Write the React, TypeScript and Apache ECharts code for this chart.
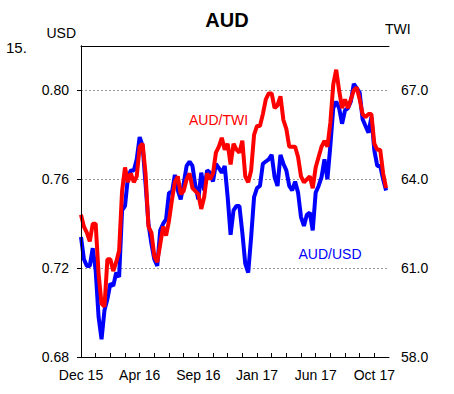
import React, { useEffect, useRef } from "react";
import * as echarts from "echarts";

const xLabels = ["Dec 15", "Apr 16", "Sep 16", "Jan 17", "Jun 17", "Oct 17"];
const labelStep = 20;

const audUsd = [
  0.734, 0.724, 0.721, 0.721, 0.729, 0.719, 0.698, 0.688, 0.701, 0.706,
  0.713, 0.712, 0.718, 0.716, 0.746, 0.748, 0.761, 0.764, 0.764, 0.769,
  0.779, 0.775, 0.758, 0.740, 0.731, 0.724, 0.721, 0.737, 0.740, 0.742,
  0.754, 0.754, 0.762, 0.755, 0.751, 0.758, 0.766, 0.768, 0.766, 0.757,
  0.751, 0.763, 0.755, 0.764, 0.763, 0.759, 0.767, 0.765, 0.763, 0.766,
  0.752, 0.735, 0.746, 0.748, 0.748, 0.736, 0.722, 0.718, 0.734, 0.752,
  0.756, 0.757, 0.767, 0.768, 0.769, 0.771, 0.761, 0.757, 0.771, 0.767,
  0.764, 0.757, 0.755, 0.759, 0.754, 0.743, 0.739, 0.744, 0.745, 0.737,
  0.754, 0.757, 0.761, 0.769, 0.760, 0.775, 0.792, 0.795, 0.792, 0.785,
  0.791, 0.792, 0.795, 0.803, 0.801, 0.799, 0.787, 0.784, 0.781, 0.788,
  0.773, 0.766, 0.766, 0.760, 0.755,
];

const audTwi = [
  62.8, 62.4, 62.2, 61.9, 62.5, 62.5, 60.8, 59.8, 59.7, 61.3,
  61.3, 60.9, 61.2, 61.6, 63.6, 64.4, 63.9, 64.2, 63.9, 64.1,
  65.1, 65.2, 64.2, 62.4, 62.2, 61.4, 61.2, 61.8, 62.4, 62.1,
  62.6, 63.3, 63.9, 64.1, 63.5, 63.6, 64.0, 64.2, 63.7, 63.6,
  63.5, 63.0, 63.4, 64.2, 64.0, 64.2, 64.9, 65.1, 65.4, 65.0,
  65.2, 64.5, 65.2, 65.0, 64.9, 65.3, 64.1, 63.9, 64.3, 65.5,
  65.8, 65.8, 66.2, 66.7, 66.9, 66.9, 66.4, 66.5, 66.8, 66.0,
  65.7, 65.1, 65.1, 65.1, 64.75, 64.1, 63.9, 64.0, 64.1, 63.7,
  64.4, 64.75, 65.1, 65.3, 65.1, 65.9, 67.2, 67.7, 67.0, 66.4,
  66.7, 66.4, 66.7, 67.0, 67.1, 66.7, 66.2, 66.1, 66.2, 66.2,
  65.2, 65.0, 65.0, 64.2, 63.7,
];

const FONT = "'Liberation Sans', Arial, sans-serif";

export default function App() {
  const ref = useRef<HTMLDivElement>(null);

  useEffect(() => {
    if (!ref.current) return;
    const chart = echarts.init(ref.current, null, { renderer: "svg" });
    const xMax = 105;
    chart.setOption({
      animation: false,
      backgroundColor: "#fff",
      grid: { left: 81, right: 65, top: 46, bottom: 37, containLabel: false },
      xAxis: [
        {
          type: "value",
          min: 0,
          max: xMax,
          interval: 5,
          position: "bottom",
          z: 5,
          axisLine: { show: true, lineStyle: { color: "#000", width: 1 } },
          axisTick: { show: true, inside: true, length: 4, lineStyle: { color: "#000" } },
          axisLabel: {
            margin: 11,
            color: "#000",
            fontSize: 14,
            fontFamily: FONT,
            showMaxLabel: false,
            formatter: (v: number) => {
              const k = Math.round(v);
              if (k % labelStep !== 0) return "";
              const idx = k / labelStep;
              return xLabels[idx] ?? "";
            },
          },
          splitLine: { show: false },
        },
        {
          type: "value",
          min: 0,
          max: xMax,
          position: "top",
          z: 5,
          axisLine: { show: true, lineStyle: { color: "#000", width: 1 } },
          axisTick: { show: false },
          axisLabel: { show: false },
          splitLine: { show: false },
        },
      ],
      yAxis: [
        {
          type: "value",
          min: 0.68,
          max: 0.82,
          interval: 0.04,
          position: "left",
          axisLine: { show: true, lineStyle: { color: "#000", width: 1 } },
          axisTick: { show: true, inside: false, length: 4, lineStyle: { color: "#000" } },
          axisLabel: {
            margin: 12,
            color: "#000",
            fontSize: 14,
            fontFamily: FONT,
            showMaxLabel: false,
            formatter: (v: number) => v.toFixed(2),
          },
          splitLine: { show: true, lineStyle: { color: "#999", width: 1, type: [2, 2] } },
        },
        {
          type: "value",
          min: 58,
          max: 68.5,
          interval: 3,
          position: "right",
          z: 5,
          axisLine: { show: true, lineStyle: { color: "#000", width: 1 } },
          axisTick: { show: true, inside: true, length: 4, lineStyle: { color: "#000" } },
          axisLabel: {
            margin: 12,
            color: "#000",
            fontSize: 14,
            fontFamily: FONT,
            showMaxLabel: false,
            formatter: (v: number) => v.toFixed(1),
          },
          splitLine: { show: false },
        },
      ],
      series: [
        {
          name: "AUD/USD",
          type: "line",
          xAxisIndex: 0,
          yAxisIndex: 0,
          showSymbol: false,
          symbol: "none",
          lineStyle: { color: "#0000ff", width: 4 },
          data: audUsd.map((v, i) => [i, v]),
          z: 2,
        },
        {
          name: "AUD/TWI",
          type: "line",
          xAxisIndex: 0,
          yAxisIndex: 1,
          showSymbol: false,
          symbol: "none",
          lineStyle: { color: "#ff0000", width: 4 },
          data: audTwi.map((v, i) => [i, v]),
          z: 3,
        },
      ],
      graphic: [
        {
          type: "text",
          x: 227,
          y: 19.7,
          style: { text: "AUD", font: `bold 20px ${FONT}`, fill: "#000", align: "center", verticalAlign: "middle" },
        },
        {
          type: "text",
          x: 6,
          y: 47.4,
          style: { text: "15.", font: `15px ${FONT}`, fill: "#000", align: "left", verticalAlign: "middle" },
        },
        {
          type: "text",
          x: 46.5,
          y: 33.4,
          style: { text: "USD", font: `14px ${FONT}`, fill: "#000", align: "left", verticalAlign: "middle" },
        },
        {
          type: "text",
          x: 385,
          y: 29.4,
          style: { text: "TWI", font: `14px ${FONT}`, fill: "#000", align: "left", verticalAlign: "middle" },
        },
        {
          type: "text",
          x: 189,
          y: 120.1,
          style: { text: "AUD/TWI", font: `14px ${FONT}`, fill: "#ff0000", align: "left", verticalAlign: "middle" },
        },
        {
          type: "text",
          x: 298.5,
          y: 254.1,
          style: { text: "AUD/USD", font: `14px ${FONT}`, fill: "#0000ff", align: "left", verticalAlign: "middle" },
        },
      ],
    });
    return () => chart.dispose();
  }, []);

  return (
    <div
      ref={ref}
      style={{ position: "fixed", left: 0, top: 0, width: 454, height: 394, background: "#fff" }}
    />
  );
}
